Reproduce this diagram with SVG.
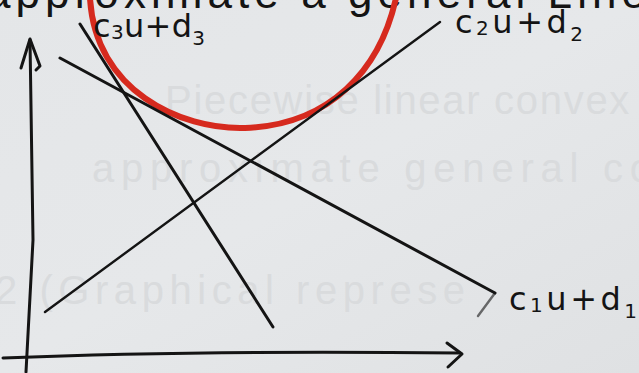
<svg xmlns="http://www.w3.org/2000/svg" width="639" height="373" viewBox="0 0 639 373">
<defs>
<linearGradient id="bg" x1="0" y1="0" x2="1" y2="1">
<stop offset="0" stop-color="#e4e6e8"/>
<stop offset="0.5" stop-color="#e6e8ea"/>
<stop offset="1" stop-color="#dfe1e3"/>
</linearGradient>
<style>
.ink{fill:none;stroke:#141414;stroke-width:3;stroke-linecap:round;stroke-linejoin:round}
.thin{stroke-width:2.4}
.red{fill:none;stroke:#d62a1e;stroke-width:6;stroke-linecap:round}
.lbl{font-family:"DejaVu Sans","Liberation Sans",sans-serif;fill:#141414;font-size:32px}
.sub{font-size:20px}
.ghost{font-family:"Liberation Sans","DejaVu Sans",sans-serif;fill:#d9dbdd;font-size:40px}
.top{font-family:"Liberation Sans","DejaVu Sans",sans-serif;fill:#141414;font-size:44px}
</style>
</defs>
<rect width="639" height="373" fill="url(#bg)"/>
<g id="background-text">
<text class="ghost" x="165" y="114" textLength="490" lengthAdjust="spacing">Piecewise  linear  convex  f</text>
<text class="ghost" x="92" y="182" textLength="560" lengthAdjust="spacing">approximate  general  co</text>
<text class="ghost" x="-5" y="304" textLength="470" lengthAdjust="spacing">2  (Graphical  represe</text>
<text class="top" x="-14" y="8" textLength="660" lengthAdjust="spacing">approximate   a   general   Line</text>
</g>
<g id="axes">
<path class="ink" d="M26 372 L33 240 L30 40"/>
<path class="ink" d="M21 68 L30 39 L40 66 L36 70"/>
<path class="ink" d="M3 358 Q200 350 460 353"/>
<path class="ink" d="M447 343 L462 354 L448 367"/>
</g>
<g id="curve">
<path class="red" d="M90 -2 C95 90 180 130 245 128 C330 125 380 70 396 -2"/>
</g>
<g id="connectors">
<path class="ink" d="M60 58 L495 293"/>
<path class="ink thin" d="M45 312 L440 22"/>
<path class="ink" d="M80 24 L273 327"/>
<path class="ink thin" d="M495 293 L478 316" stroke-opacity="0.6"/>
</g>
<g id="label-c1">
<text class="lbl" x="509" y="310" textLength="128" lengthAdjust="spacing">c<tspan class="sub" dy="2">1</tspan><tspan dy="-2">u+d</tspan><tspan class="sub" dy="8">1</tspan></text>
</g>
<g id="label-c2">
<text class="lbl" x="455" y="33" textLength="128" lengthAdjust="spacing">c<tspan class="sub" dy="2">2</tspan><tspan dy="-2">u+d</tspan><tspan class="sub" dy="8">2</tspan></text>
</g>
<g id="label-c3">
<text class="lbl" x="93" y="37" textLength="112" lengthAdjust="spacing">c<tspan class="sub" dy="2">3</tspan><tspan dy="-2">u+d</tspan><tspan class="sub" dy="8">3</tspan></text>
</g>
</svg>
